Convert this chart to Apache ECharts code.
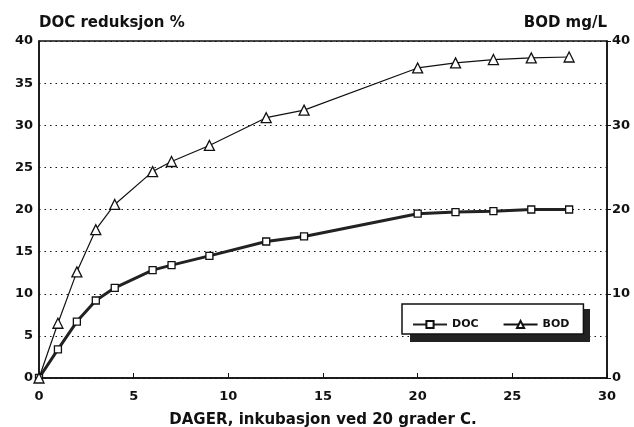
<!DOCTYPE html>
<html>
<head>
<meta charset="utf-8">
<script src="https://cdn.jsdelivr.net/npm/echarts@6/dist/echarts.min.js"></script>
<style>
  html, body { margin: 0; padding: 0; background: #fff; }
  #chart { width: 634px; height: 427px; }
</style>
</head>
<body>
<div id="chart"></div>
<script>
// Incubation days and measured values
const days = [0, 1, 2, 3, 4, 6, 7, 9, 12, 14, 20, 22, 24, 26, 28];
const docReduction = [0, 3.4, 6.7, 9.2, 10.7, 12.8, 13.4, 14.5, 16.2, 16.8, 19.5, 19.7, 19.8, 20.0, 20.0];
const bodValues = [0, 6.5, 12.6, 17.6, 20.6, 24.5, 25.7, 27.6, 30.9, 31.8, 36.8, 37.4, 37.8, 38.0, 38.1];
const seriesNames = ['DOC', 'BOD'];

const ink = '#111';
const font = '"DejaVu Sans", Verdana, sans-serif';

const chart = echarts.init(document.getElementById('chart'), null, { renderer: 'canvas' });

chart.setOption({
  animation: false,
  backgroundColor: '#fff',
  grid: {
    left: 39, right: 27, top: 41, bottom: 49,
    outerBoundsMode: 'none',
    containLabel: false,
    show: true, borderColor: ink, borderWidth: 1.5
  },
  // drop shadow behind the legend box
  graphic: [
    {
      type: 'rect',
      left: 410, top: 309,
      shape: { width: 180, height: 33 },
      style: { fill: '#222' },
      z: 3
    }
  ],
  legend: {
    data: seriesNames,
    left: 402, top: 304,
    orient: 'horizontal',
    padding: [15, 14, 4, 10],
    itemGap: 24,
    itemWidth: 34,
    itemHeight: 9,
    backgroundColor: '#fff',
    borderColor: ink,
    borderWidth: 1.5,
    z: 5,
    textStyle: { fontFamily: font, fontWeight: 'bold', fontSize: 11, color: ink }
  },
  xAxis: {
    type: 'value',
    min: 0, max: 30, interval: 5,
    name: 'DAGER, inkubasjon ved 20 grader C.',
    nameLocation: 'middle',
    nameGap: 35,
    nameTextStyle: { fontFamily: font, fontWeight: 'bold', fontSize: 15, color: ink },
    axisLine: { show: true, lineStyle: { color: ink, width: 1.5 } },
    axisTick: { show: true, inside: true, length: 5, lineStyle: { color: ink } },
    axisLabel: { fontFamily: font, fontWeight: 'bold', fontSize: 13, color: ink, margin: 12 },
    splitLine: { show: false }
  },
  yAxis: [
    {
      type: 'value',
      min: 0, max: 40, interval: 5,
      name: 'DOC reduksjon %',
      nameLocation: 'end',
      nameGap: 10,
      nameTextStyle: { fontFamily: font, fontWeight: 'bold', fontSize: 15, color: ink, align: 'left' },
      axisLine: { show: true, lineStyle: { color: ink, width: 1.5 } },
      axisTick: { show: false },
      axisLabel: { fontFamily: font, fontWeight: 'bold', fontSize: 13, color: ink, margin: 6 },
      splitLine: { show: true, lineStyle: { color: ink, width: 1.2, type: [1.5, 4] } }
    },
    {
      type: 'value',
      min: 0, max: 40, interval: 10,
      position: 'right',
      name: 'BOD mg/L',
      nameLocation: 'end',
      nameGap: 10,
      nameTextStyle: { fontFamily: font, fontWeight: 'bold', fontSize: 15, color: ink, align: 'right' },
      axisLine: { show: true, lineStyle: { color: ink, width: 1.5 } },
      axisTick: { show: true, length: 4, lineStyle: { color: ink } },
      axisLabel: { fontFamily: font, fontWeight: 'bold', fontSize: 13, color: ink, margin: 5 },
      splitLine: { show: false }
    }
  ],
  series: [
    {
      name: seriesNames[0],
      type: 'line',
      yAxisIndex: 0,
      data: days.map((d, i) => [d, docReduction[i]]),
      symbol: 'rect',
      symbolSize: 7,
      color: ink,
      lineStyle: { color: '#222', width: 3 },
      itemStyle: { color: '#fff', borderColor: ink, borderWidth: 1.3 },
      z: 3
    },
    {
      name: seriesNames[1],
      type: 'line',
      yAxisIndex: 1,
      data: days.map((d, i) => [d, bodValues[i]]),
      symbol: 'triangle',
      symbolSize: 10,
      color: ink,
      lineStyle: { color: ink, width: 1.2 },
      itemStyle: { color: '#fff', borderColor: ink, borderWidth: 1.3 },
      z: 3
    }
  ]
});
</script>
</body>
</html>
